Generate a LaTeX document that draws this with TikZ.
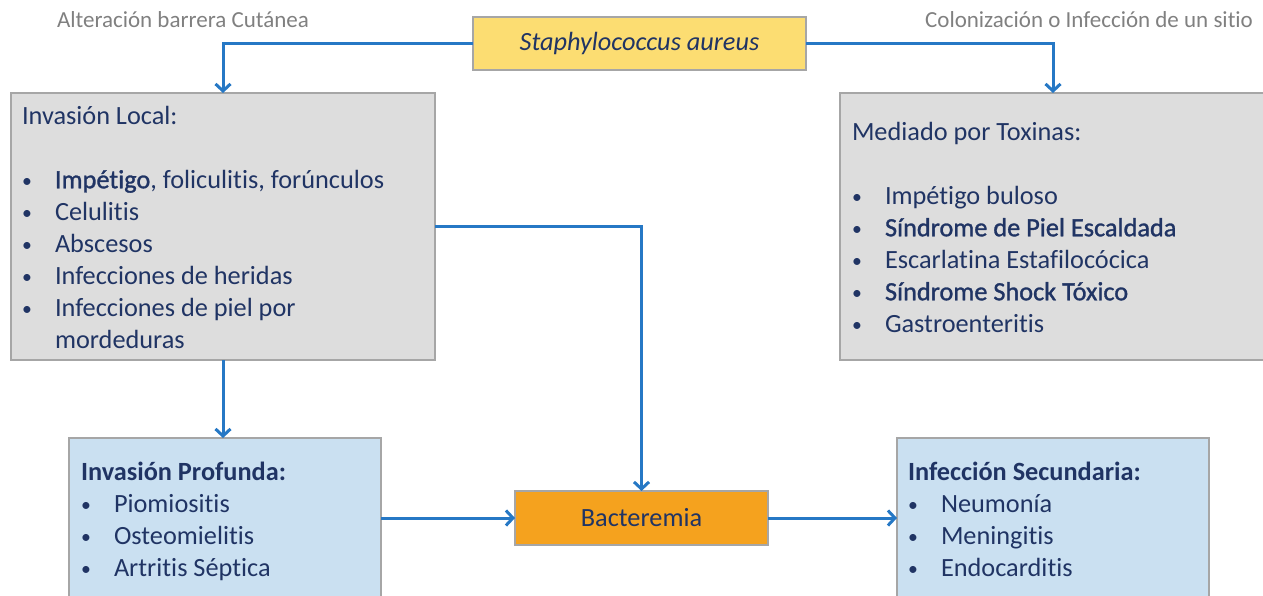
\documentclass[tikz,border=0pt]{standalone}
\usepackage{fontspec}
\setmainfont{Carlito}[Ligatures=NoCommon]
\newfontface\medfont{Carlito}[FakeBold=1.2, Ligatures=NoCommon]
\usepackage{xcolor}
\usepackage{graphicx}
\usetikzlibrary{calc}
\usetikzlibrary{arrows, arrows.meta}

\definecolor{arrowblue}{RGB}{38,120,197}
\definecolor{navy}{RGB}{32,52,100}
\definecolor{labelgray}{RGB}{128,128,128}
\definecolor{boxline}{RGB}{166,166,166}
\definecolor{yellowbox}{RGB}{252,221,114}
\definecolor{graybox}{RGB}{221,221,221}
\definecolor{bluebox}{RGB}{202,224,241}
\definecolor{orangebox}{RGB}{245,162,30}

\newcommand{\bulletitem}[1]{\makebox[33pt][l]{\raisebox{1pt}{\scalebox{0.75}{\textbullet}}}#1}

\begin{document}
\begin{tikzpicture}[x=1pt, y=-1pt]

\tikzset{%
box/.style={draw=boxline, line width=1.3pt, inner sep=0, outer sep=0, anchor=north west, text=navy, font=\fontsize{26.3}{32}\selectfont},
flow/.style={arrowblue, line width=3pt, -{Straight Barb[length=7pt, width=15pt]}},
boxtext/.style={text=navy, font=\fontsize{26.3}{32}\selectfont, align=left, inner sep=0, outer sep=0, anchor=north west},
sidelabel/.style={text=labelgray, font=\fontsize{23}{27}\selectfont, inner sep=0, outer sep=0}%
}

\clip (0,0) rectangle (1263,596);

% arguments: name, x, y, width, height, fill
\newcommand{\placebox}[6]{%
\node [box, fill=#6, minimum width=#4, minimum height=#5] (#1) at (#2, #3) {} ;
}

% draw boxes

\node [box, fill=yellowbox, minimum width=333, minimum height=53, font=\fontsize{26.3}{32}\selectfont\itshape] (saureus) at (473,17) {Staphylococcus aureus} ;
\node [box, fill=orangebox, minimum width=253, minimum height=54] (bact) at (515,491) {Bacteremia} ;

\placebox{local}{11}{93}{424}{267}{graybox}
\placebox{toxin}{840}{93}{426}{267}{graybox}
\placebox{deep}{69}{438}{312}{180}{bluebox}
\placebox{second}{897}{438}{312}{180}{bluebox}

% side labels

\node [sidelabel, anchor=west] (skinlabel) at (57,20) {Alteración barrera Cutánea} ;
\node [sidelabel, anchor=east] (sitelabel) at (1253,20) {Colonización o Infección de un sitio} ;

% box texts

\node [boxtext] (localtext) at ($ (local.north west) + (11,13) $) {%
Invasión Local:\\[32pt]
\bulletitem{{\medfont Impétigo}, foliculitis, forúnculos}\\
\bulletitem{Celulitis}\\
\bulletitem{Abscesos}\\
\bulletitem{Infecciones de heridas}\\
\bulletitem{Infecciones de piel por}\\
\hspace*{33pt}mordeduras} ;

\node [boxtext] (toxintext) at ($ (toxin.north west) + (12,29) $) {%
Mediado por Toxinas:\\[32pt]
\bulletitem{Impétigo buloso}\\
\bulletitem{\medfont Síndrome de Piel Escaldada}\\
\bulletitem{Escarlatina Estafilocócica}\\
\bulletitem{\medfont Síndrome Shock Tóxico}\\
\bulletitem{Gastroenteritis}} ;

\node [boxtext] (deeptext) at ($ (deep.north west) + (12,24) $) {%
\textbf{Invasión Profunda:}\\
\bulletitem{Piomiositis}\\
\bulletitem{Osteomielitis}\\
\bulletitem{Artritis Séptica}} ;

\node [boxtext] (secondtext) at ($ (second.north west) + (11,24) $) {%
\textbf{Infección Secundaria:}\\
\bulletitem{Neumonía}\\
\bulletitem{Meningitis}\\
\bulletitem{Endocarditis}} ;

% draw arrows

\draw [flow] (saureus.west) -| (local.north) ;
\draw [flow] (saureus.east) -| (toxin.north) ;
\draw [flow] ($ (local.north east) + (0,133) $) -| (bact.north) ;
\draw [flow] (local.south) -- (local.south |- deep.north) ;
\draw [flow] (deep.east |- bact.west) -- (bact.west) ;
\draw [flow] (bact.east) -- (bact.east -| second.west) ;

\end{tikzpicture}
\end{document}
